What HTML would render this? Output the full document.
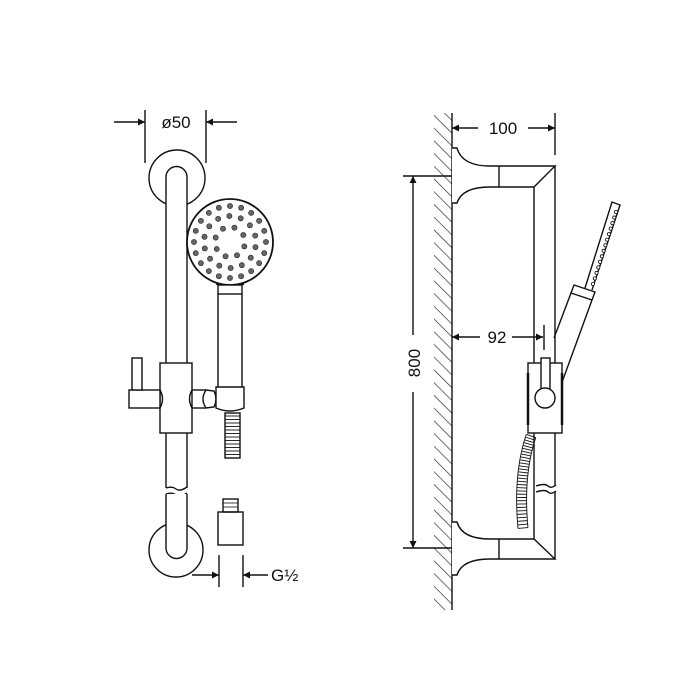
<!DOCTYPE html>
<html><head><style>html,body{margin:0;padding:0;background:#fff;}svg{display:block}</style></head>
<body>
<svg id="s" width="699" height="699" viewBox="0 0 699 699" xmlns="http://www.w3.org/2000/svg" font-family="Liberation Sans, sans-serif" fill="none" stroke="#111" stroke-width="1.4">
<defs>
<marker id="a" viewBox="0 0 10 10" refX="10" refY="5" markerWidth="10" markerHeight="7" orient="auto-start-reverse" markerUnits="userSpaceOnUse"><path d="M0,0L10,5L0,10z" fill="#111" stroke="none"/></marker>
<pattern id="h" width="9" height="9" patternUnits="userSpaceOnUse" patternTransform="rotate(-45)"><line x1="0" y1="0" x2="0" y2="9" stroke="#222" stroke-width="1.3"/></pattern>
</defs>
<!-- LEFT -->
<line x1="145" y1="110" x2="145" y2="163"/>
<line x1="206" y1="110" x2="206" y2="163"/>
<line x1="114" y1="122" x2="145" y2="122" marker-end="url(#a)"/>
<line x1="237" y1="122" x2="206" y2="122" marker-end="url(#a)"/>
<text x="176" y="128" font-size="17" fill="#111" stroke="none" text-anchor="middle">ø50</text>
<circle cx="177" cy="178" r="28"/>
<circle cx="176" cy="550" r="27"/>
<path d="M166,488 V177 A10.5,10.5 0 0 1 187,177 V488" fill="#fff"/>
<path d="M166,488 Q172,486 176,489 T187,487"/>
<path d="M166,494 Q172,492 176,495 T187,493"/>
<path d="M166,494 V548 A10.5,10.5 0 0 0 187,548 V494" fill="#fff"/>
<rect x="160" y="363" width="32" height="70" fill="#fff"/>
<path d="M160,390 Q165,399 160,408"/>
<path d="M192,390 Q187,399 192,408"/>
<rect x="129" y="390" width="31" height="18" fill="#fff"/>
<rect x="132" y="358" width="10" height="32" fill="#fff"/>
<line x1="192" y1="390" x2="206" y2="390"/><line x1="192" y1="408" x2="206" y2="408"/>
<path d="M206,390 Q200,399 206,408 L214,407 Q218,399 214,391 Z" fill="#fff"/>
<circle cx="230" cy="242" r="43" fill="#fff" stroke-width="1.8"/>
<g id="dots" fill="#666" stroke="#222" stroke-width="0.6"></g>
<path d="M216,284 Q230,290 244,284" />
<rect x="218" y="285" width="24" height="9" fill="#fff"/>
<line x1="218" y1="294" x2="218" y2="387"/><line x1="242" y1="294" x2="242" y2="387"/>
<path d="M216,387 H244 V408 Q230,414 216,408 Z" fill="#fff"/>
<rect x="225" y="413" width="15" height="45"/>
<g id="hose1" stroke-width="0.9"></g>
<rect x="218" y="512" width="25" height="33" fill="#fff"/>
<rect x="223" y="499" width="15" height="13"/>
<line x1="223" y1="503" x2="238" y2="503" stroke-width="0.8"/><line x1="223" y1="507" x2="238" y2="507" stroke-width="0.8"/>
<line x1="219" y1="555" x2="219" y2="587"/>
<line x1="243" y1="555" x2="243" y2="587"/>
<line x1="192" y1="575" x2="219" y2="575" marker-end="url(#a)"/>
<line x1="268" y1="575" x2="243" y2="575" marker-end="url(#a)"/>
<text x="271" y="581" font-size="17" fill="#111" stroke="none">G½</text>

<!-- RIGHT -->
<rect x="434" y="113" width="18" height="497" fill="url(#h)" stroke="none"/>
<line x1="452" y1="113" x2="452" y2="610"/>
<line x1="555" y1="113" x2="555" y2="155"/>
<line x1="478" y1="128" x2="452" y2="128" marker-end="url(#a)"/>
<line x1="528" y1="128" x2="555" y2="128" marker-end="url(#a)"/>
<text x="503" y="134" font-size="17" fill="#111" stroke="none" text-anchor="middle">100</text>
<path d="M452,148 H457 Q462,166 490,166 H555 L534,187 H490 Q462,187 457,203 H452" fill="#fff"/>
<line x1="499" y1="166" x2="499" y2="187"/>
<line x1="555" y1="166" x2="555" y2="486"/>
<line x1="555" y1="492" x2="555" y2="559"/>
<line x1="534" y1="187" x2="534" y2="539"/>
<path d="M536,486 Q545,483 548,486 T556,485"/>
<path d="M536,492 Q545,489 548,492 T556,491"/>
<path d="M452,522 H457 Q462,539 490,539 H534 L555,559 H490 Q462,559 457,575 H452" fill="#fff"/>
<line x1="499" y1="539" x2="499" y2="559"/>
<line x1="403" y1="176" x2="452" y2="176"/>
<line x1="403" y1="548" x2="452" y2="548"/>
<line x1="413" y1="335" x2="413" y2="176" marker-end="url(#a)"/>
<line x1="413" y1="392" x2="413" y2="548" marker-end="url(#a)"/>
<text transform="translate(420,363) rotate(-90)" font-size="17" fill="#111" stroke="none" text-anchor="middle">800</text>
<line x1="544" y1="325" x2="544" y2="350"/>
<line x1="480" y1="337" x2="452" y2="337" marker-end="url(#a)"/>
<line x1="512" y1="337" x2="543" y2="337" marker-end="url(#a)"/>
<text x="497" y="343" font-size="17" fill="#111" stroke="none" text-anchor="middle">92</text>
<path d="M585,288 L612,202 L620,205 L592,290" fill="#fff"/>
<g id="noz" fill="#fff" stroke-width="0.8"></g>
<path d="M574,285 L595,292 L592,300 L571,293 Z" fill="#fff"/>
<line x1="571" y1="293" x2="554" y2="338"/>
<line x1="592" y1="300" x2="561" y2="385"/>
<rect x="528" y="363" width="34" height="70" fill="#fff"/>
<line x1="528" y1="373" x2="528" y2="425" stroke-width="2.5"/>
<line x1="562" y1="373" x2="562" y2="425" stroke-width="2.5"/>
<rect x="541" y="358" width="9" height="34" fill="#fff"/>
<circle cx="545" cy="398" r="10" fill="#fff"/>
<g id="hose2" stroke-width="0.9"></g>
</svg>
<script>
var NS="http://www.w3.org/2000/svg";
function el(g,t,a){var e=document.createElementNS(NS,t);for(var k in a)e.setAttribute(k,a[k]);document.getElementById(g).appendChild(e);return e;}
[[36,20,0],[26,14,0.2],[15,8,0.3]].forEach(function(r){for(var i=0;i<r[1];i++){var t=2*Math.PI*i/r[1]+r[2];el("dots","circle",{cx:230+r[0]*Math.cos(t),cy:242+r[0]*Math.sin(t),r:2.6});}});
for(var y=416;y<458;y+=3.5)el("hose1","line",{x1:225,y1:y,x2:240,y2:y});
for(var i=0;i<14;i++){var t=i/13;var x=613-t*(613-590),y=212+t*(284-212);el("noz","circle",{cx:x+3,cy:y,r:1.6});}
// hose2: centerline quadratic from (531,436) ctrl (518,475) to (523,528)
function P(t){var a=[531,436],c=[518,475],b=[523,528];var u=1-t;return [u*u*a[0]+2*u*t*c[0]+t*t*b[0],u*u*a[1]+2*u*t*c[1]+t*t*b[1]];}
var L=[],R=[];
for(var i=0;i<=30;i++){var t=i/30,p=P(t),q=P(Math.min(1,t+0.01)),r=P(Math.max(0,t-0.01));var dx=q[0]-r[0],dy=q[1]-r[1],n=Math.hypot(dx,dy);var nx=-dy/n*5,ny=dx/n*5;
el("hose2","line",{x1:p[0]-nx,y1:p[1]-ny,x2:p[0]+nx,y2:p[1]+ny});L.push((p[0]-nx)+","+(p[1]-ny));R.push((p[0]+nx)+","+(p[1]+ny));}
el("hose2","polyline",{points:L.join(" ")});el("hose2","polyline",{points:R.join(" ")});
</script>
</body></html>
